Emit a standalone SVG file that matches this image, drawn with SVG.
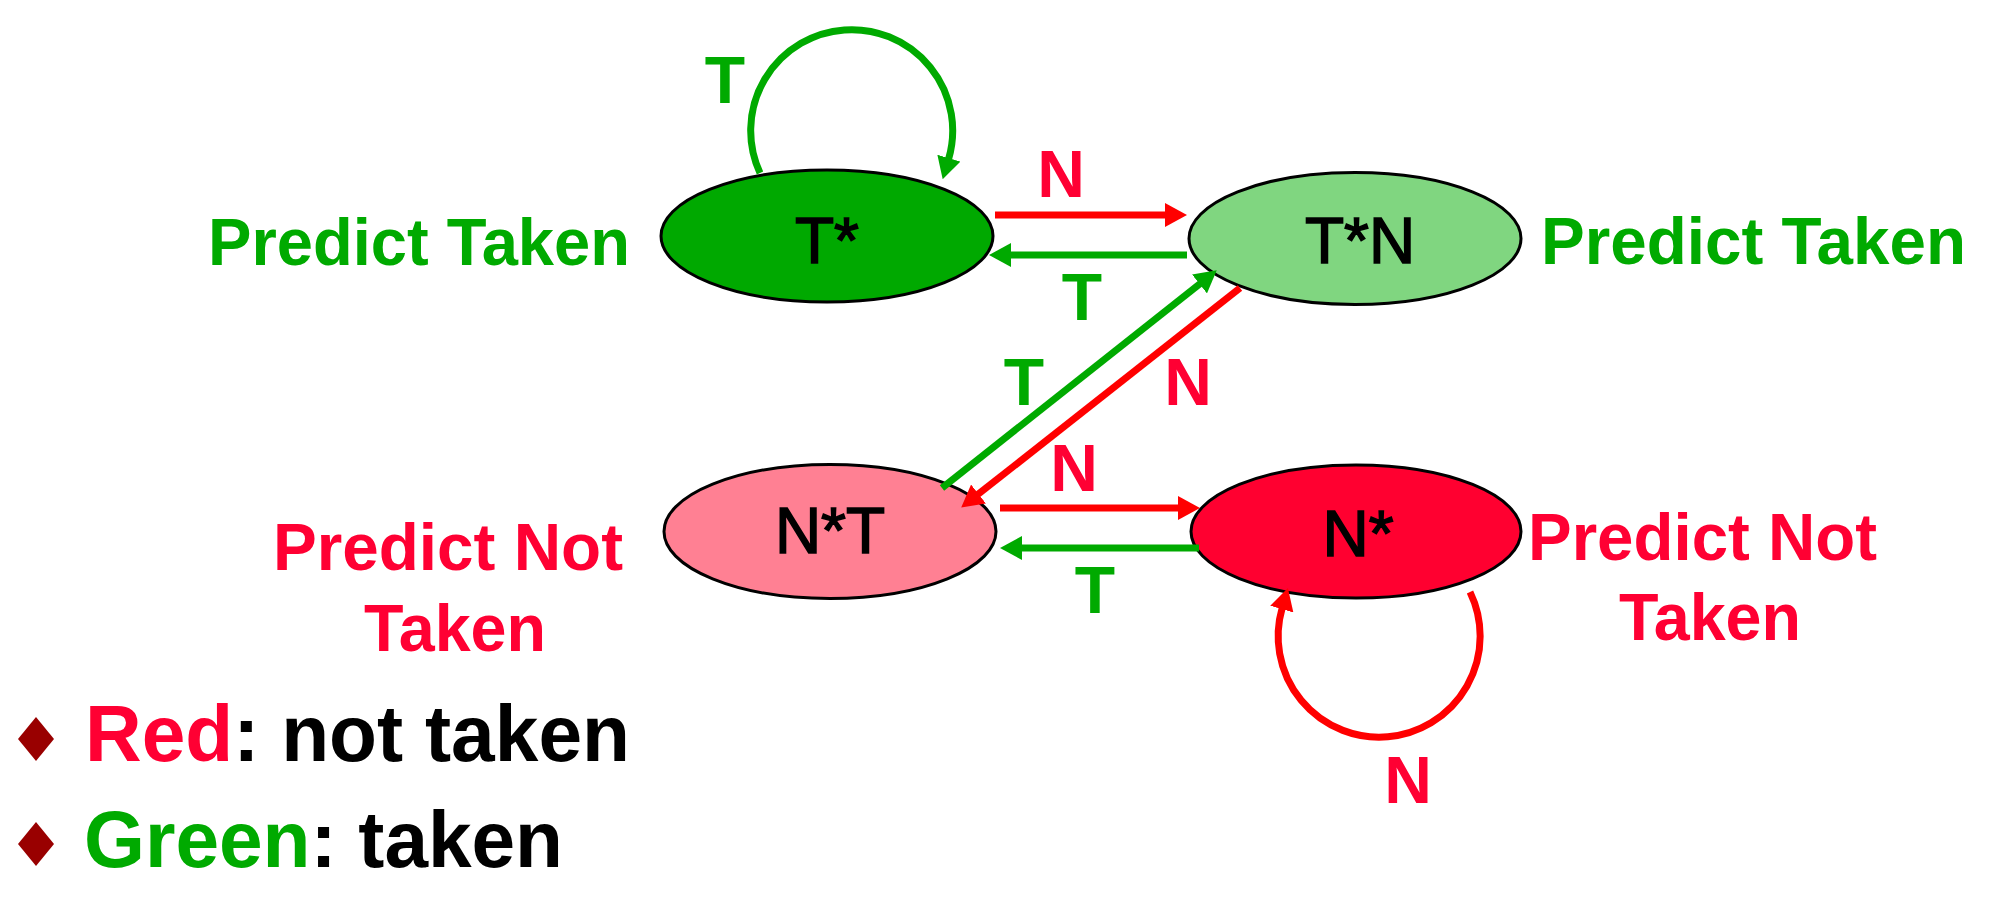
<svg xmlns="http://www.w3.org/2000/svg" width="1997" height="921" viewBox="0 0 1997 921">
<style>
.lbl{font-family:"Liberation Sans",Arial,sans-serif;font-weight:bold;font-size:66px;text-anchor:middle}
.big{font-family:"Liberation Sans",Arial,sans-serif;font-weight:bold;font-size:66px}
.leg{font-family:"Liberation Sans",Arial,sans-serif;font-weight:bold;font-size:79px}
.node{font-family:"Liberation Sans",Arial,sans-serif;font-size:64px;text-anchor:middle;fill:#000;stroke:#000;stroke-width:1.5}
.g{fill:#00AA00}
.r{fill:#FF0033}
.k{fill:#000}
.ell{stroke:#000;stroke-width:3}
.gl{stroke:#00AA00;stroke-width:7;fill:none}
.rl{stroke:#FF0000;stroke-width:7;fill:none}
</style>
<defs>
<marker id="ag" markerUnits="userSpaceOnUse" markerWidth="22" markerHeight="24" viewBox="0 0 22 24" refX="1" refY="12" orient="auto"><path d="M0,0 L22,12 L0,24 z" fill="#00AA00"/></marker>
<marker id="ar" markerUnits="userSpaceOnUse" markerWidth="22" markerHeight="24" viewBox="0 0 22 24" refX="1" refY="12" orient="auto"><path d="M0,0 L22,12 L0,24 z" fill="#FF0000"/></marker>
</defs>
<rect width="1997" height="921" fill="#fff"/>

<g id="node-Tstar">
<ellipse class="ell" cx="827" cy="236" rx="166" ry="66" fill="#00A900"/>
<text class="node" x="827" y="263">T*</text>
</g>
<g id="node-TstarN">
<ellipse class="ell" cx="1355" cy="238.5" rx="166" ry="66" fill="#80D680"/>
<text class="node" x="1360" y="263">T*N</text>
</g>
<g id="node-NstarT">
<ellipse class="ell" cx="830" cy="531.5" rx="166" ry="67" fill="#FF8093"/>
<text class="node" x="830" y="553">N*T</text>
</g>
<g id="node-Nstar">
<ellipse class="ell" cx="1356" cy="531.5" rx="165" ry="66.5" fill="#FF0030"/>
<text class="node" x="1358" y="556">N*</text>
</g>

<g id="connectors">
<path class="gl" d="M760 173 A101 101 0 1 1 948.6 159.1" marker-end="url(#ag)"/>
<path class="rl" d="M995 215 L1166 215" marker-end="url(#ar)"/>
<path class="gl" d="M1187 255 L1010 255" marker-end="url(#ag)"/>
<path class="gl" d="M942 488 L1200.3 283.4" marker-end="url(#ag)"/>
<path class="rl" d="M1240 288 L977.7 494.6" marker-end="url(#ar)"/>
<path class="rl" d="M1000 508 L1179 508" marker-end="url(#ar)"/>
<path class="gl" d="M1199 548 L1021 548" marker-end="url(#ag)"/>
<path class="rl" d="M1470 592 A101 101 0 1 1 1282.1 608.2" marker-end="url(#ar)"/>
</g>

<g id="edge-labels">
<text class="lbl g" x="725" y="103">T</text>
<text class="lbl r" x="1061" y="197">N</text>
<text class="lbl g" x="1082" y="320">T</text>
<text class="lbl g" x="1024" y="405">T</text>
<text class="lbl r" x="1188" y="405">N</text>
<text class="lbl r" x="1074" y="491">N</text>
<text class="lbl g" x="1095" y="613">T</text>
<text class="lbl r" x="1408" y="803">N</text>
</g>

<g id="state-labels">
<text class="big g" x="208" y="265" textLength="422" lengthAdjust="spacingAndGlyphs">Predict Taken</text>
<text class="big g" x="1541" y="264" textLength="425" lengthAdjust="spacingAndGlyphs">Predict Taken</text>
<text class="big r" x="273" y="570" textLength="350" lengthAdjust="spacingAndGlyphs">Predict Not</text>
<text class="big r" x="364" y="651" textLength="182" lengthAdjust="spacingAndGlyphs">Taken</text>
<text class="big r" x="1528" y="560" textLength="349" lengthAdjust="spacingAndGlyphs">Predict Not</text>
<text class="big r" x="1619" y="640" textLength="182" lengthAdjust="spacingAndGlyphs">Taken</text>
</g>

<g id="legend">
<path d="M36 717 L54 739 L36 761 L18 739 z" fill="#990000"/>
<text class="leg" x="85" y="761" textLength="545" lengthAdjust="spacingAndGlyphs"><tspan class="r">Red</tspan><tspan class="k">: not taken</tspan></text>
<path d="M36 822 L54 844 L36 866 L18 844 z" fill="#990000"/>
<text class="leg" x="84" y="867" textLength="479" lengthAdjust="spacingAndGlyphs"><tspan class="g">Green</tspan><tspan class="k">: taken</tspan></text>
</g>
</svg>
